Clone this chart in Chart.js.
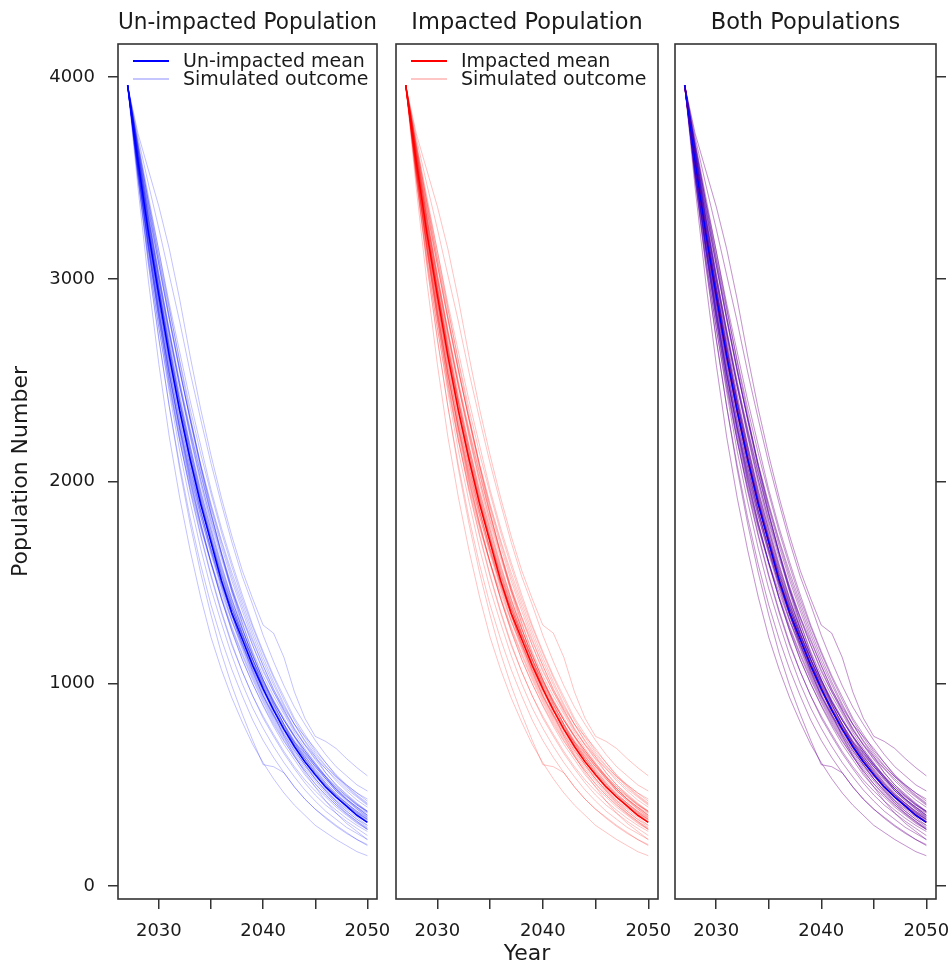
<!DOCTYPE html>
<html>
<head>
<meta charset="utf-8">
<script src="https://cdn.jsdelivr.net/npm/chart.js@4.4.1/dist/chart.umd.min.js"></script>
<style>
  html, body { margin: 0; padding: 0; background: #ffffff; }
  #wrap { position: relative; width: 951px; height: 967px; overflow: hidden; }
  canvas { position: absolute; left: 0; top: 0; }
</style>
</head>
<body>
<div id="wrap">
  <canvas id="c1" width="951" height="967"></canvas>
  <canvas id="c2" width="951" height="967"></canvas>
  <canvas id="c3" width="951" height="967"></canvas>
</div>
<script>
// Projection years and the two mean trajectories
const years = [2027,2028,2029,2030,2031,2032,2033,2034,2035,2036,2037,2038,2039,2040,2041,2042,2043,2044,2045,2046,2047,2048,2049,2050];
const unimpactedMean = [3960,3580,3230,2920,2620,2350,2110,1890,1700,1510,1350,1220,1090,975,870,775,690,615,550,490,440,395,350,315];
const impactedMean   = [3960,3580,3230,2920,2620,2350,2110,1890,1700,1510,1350,1220,1090,975,870,775,690,615,550,490,440,395,350,315];

// Simulated outcomes (the same runs appear for both populations)
const run01 = [3960,3720,3540,3360,3150,2900,2620,2360,2130,1920,1730,1560,1420,1290,1250,1130,960,830,740,715,680,630,585,545];
const run02 = [3960,3700,3470,3250,3020,2790,2540,2310,2090,1890,1700,1530,1390,1240,1110,990,885,800,720,650,590,545,500,470];
const run03 = [3960,3660,3390,3140,2880,2640,2400,2180,1960,1770,1600,1440,1290,1160,1040,935,830,750,670,610,545,495,450,410];
const run04 = [3960,3640,3340,3070,2800,2540,2310,2080,1880,1700,1530,1380,1240,1110,995,890,800,715,640,580,520,470,425,390];
const run05 = [3960,3620,3300,3000,2730,2470,2230,2010,1810,1640,1470,1320,1190,1070,960,860,770,700,640,560,500,455,410,370];
const run06 = [3960,3600,3270,2970,2680,2410,2170,1950,1760,1570,1410,1270,1140,1020,915,820,740,660,590,530,480,430,390,350];
const run07 = [3960,3590,3240,2930,2630,2360,2120,1900,1710,1540,1380,1230,1100,990,880,790,705,630,560,500,450,400,360,325];
const run08 = [3960,3570,3210,2890,2590,2320,2070,1850,1660,1480,1320,1180,1050,940,840,750,670,600,530,475,420,380,340,300];
const run09 = [3960,3550,3180,2850,2540,2270,2020,1800,1600,1420,1260,1120,1000,890,790,700,625,550,490,440,390,350,310,280];
const run10 = [3960,3530,3140,2800,2490,2210,1960,1740,1540,1360,1200,1060,940,830,740,655,580,510,450,400,360,320,285,250];
const run11 = [3960,3510,3110,2760,2440,2150,1900,1670,1470,1300,1140,1000,880,780,690,610,540,475,420,370,330,290,260,230];
const run12 = [3960,3490,3070,2700,2370,2080,1820,1590,1390,1220,1070,940,820,720,635,560,490,430,380,340,300,265,230,200];
const run13 = [3960,3450,2990,2580,2220,1920,1660,1430,1230,1070,930,810,700,610,530,460,400,350,300,265,230,200,170,150];
const run14 = [3960,3500,3100,2760,2460,2200,1970,1770,1600,1450,1310,1190,1070,960,870,780,700,640,580,520,470,430,390,360];
const run15 = [3960,3680,3410,3140,2860,2590,2330,2080,1850,1640,1450,1280,1120,980,850,740,645,560,490,420,360,310,270,230];
const run16 = [3960,3610,3290,3000,2720,2470,2250,2040,1840,1650,1470,1300,1150,1020,900,800,720,650,590,530,480,440,400,370];
const run17 = [3960,3500,3080,2710,2370,2060,1790,1550,1340,1150,990,850,720,600,590,560,490,430,380,335,295,260,230,205];
const run18 = [3960,3560,3200,2880,2600,2340,2100,1890,1700,1520,1370,1240,1120,1010,910,820,740,670,600,540,480,430,390,350];
const run19 = [3960,3580,3220,2890,2570,2290,2040,1830,1640,1470,1310,1170,1040,930,830,740,660,590,530,470,420,370,330,290];
const run20 = [3960,3650,3360,3080,2810,2550,2310,2090,1890,1710,1550,1400,1260,1130,1010,900,800,720,650,590,540,500,460,430];
const run21 = [3960,3540,3160,2820,2520,2260,2030,1830,1650,1490,1340,1200,1070,950,850,760,680,600,530,470,410,360,320,280];
const run22 = [3960,3600,3260,2950,2660,2390,2140,1910,1700,1510,1340,1190,1060,940,840,750,670,600,540,490,440,400,360,330];
const run23 = [3960,3630,3310,3010,2740,2490,2260,2040,1830,1640,1460,1300,1160,1040,940,850,760,680,610,540,480,430,380,340];
const run24 = [3960,3560,3190,2860,2560,2300,2070,1860,1670,1500,1340,1200,1080,970,880,790,710,630,560,500,450,410,370,340];
const run25 = [3960,3620,3310,3020,2750,2490,2240,2010,1800,1620,1460,1330,1210,1090,970,880,800,740,680,610,550,500,460,420];
const run26 = [3960,3590,3250,2940,2650,2390,2150,1920,1720,1540,1390,1250,1110,980,870,780,710,660,600,530,470,420,380,345];
const run27 = [3960,3540,3170,2840,2530,2250,2000,1790,1600,1430,1280,1150,1030,920,820,730,650,580,520,460,410,370,330,300];
const run28 = [3960,3670,3380,3100,2820,2560,2300,2060,1840,1650,1480,1330,1190,1060,960,870,780,700,630,580,530,480,440,400];
const run29 = [3960,3600,3250,2950,2640,2380,2120,1910,1720,1530,1370,1240,1100,990,890,800,690,630,565,505,450,405,365,330];
const run30 = [3960,3550,3180,2840,2540,2260,2010,1790,1600,1420,1260,1120,1000,895,800,715,640,570,505,450,400,360,320,285];
const run31 = [3960,3610,3280,2960,2670,2400,2170,1940,1740,1560,1400,1250,1120,1000,900,800,710,645,575,510,460,410,370,335];
const run32 = [3960,3540,3160,2830,2530,2270,2050,1850,1670,1510,1370,1240,1120,1010,910,820,740,670,605,545,490,445,400,365];
const run33 = [3960,3630,3300,2990,2700,2430,2180,1960,1760,1580,1420,1270,1140,1020,910,820,735,655,590,540,470,425,385,350];
const run34 = [3960,3580,3220,2900,2620,2350,2090,1860,1660,1490,1340,1200,1060,940,845,770,700,625,550,480,425,385,355,320];
const run35 = [3960,3640,3350,3070,2800,2550,2310,2080,1870,1680,1510,1360,1220,1090,975,870,775,695,625,560,500,450,405,365];
const run36 = [3960,3660,3380,3110,2850,2600,2360,2140,1940,1750,1580,1420,1280,1150,1030,920,820,735,660,595,540,490,445,405];
const run37 = [3960,3540,3150,2800,2480,2200,1950,1730,1530,1350,1190,1060,940,840,750,665,590,525,470,420,375,335,300,270];
const run38 = [3960,3640,3330,3030,2740,2470,2220,1990,1780,1590,1420,1270,1140,1020,920,830,745,670,600,540,490,445,405,370];
const run39 = [3960,3530,3150,2810,2500,2230,1990,1780,1590,1420,1270,1140,1020,910,810,720,640,570,505,450,400,355,315,280];
const run40 = [3960,3600,3270,2960,2660,2390,2150,1930,1730,1550,1390,1250,1120,1000,895,800,715,640,570,510,455,410,365,330];
const simulatedRuns = [run01,run02,run03,run04,run05,run06,run07,run08,run09,run10,
                       run11,run12,run13,run14,run15,run16,run17,run18,run19,run20,
                       run21,run22,run23,run24,run25,run26,run27,run28,run29,run30,
                       run31,run32,run33,run34,run35,run36,run37,run38,run39,run40];

// Axis ticks
const yTicks = [0, 1000, 2000, 3000, 4000];
const xTicks = [2030, 2035, 2040, 2045, 2050];
const xLabelled = [2030, 2040, 2050];

const FONT = 'DejaVu Sans';
const INK = '#1a1a1a';
const FRAME = '#333333';
const BLUE = '#0000ff';
const RED = '#ff0000';
const BLUE_SIM = 'rgba(0,0,255,0.24)';
const RED_SIM = 'rgba(255,0,0,0.24)';

function points(vals) {
  return years.map((yr, i) => ({ x: yr, y: vals[i] }));
}
function meanSet(vals, color) {
  return { data: points(vals), borderColor: color, borderWidth: 1.6, pointRadius: 0, tension: 0, fill: false };
}
function runSets(color) {
  return simulatedRuns.map(r => ({ data: points(r), borderColor: color, borderWidth: 1, pointRadius: 0, tension: 0, fill: false }));
}

// Box around each panel and the in-panel key
const panelDecor = {
  id: 'panelDecor',
  afterDraw(chart, args, opts) {
    const { ctx, chartArea: a } = chart;
    ctx.save();
    ctx.strokeStyle = FRAME;
    ctx.lineWidth = 1.6;
    ctx.strokeRect(a.left, a.top, a.right - a.left, a.bottom - a.top);
    if (opts.items) {
      ctx.font = '19px "' + FONT + '"';
      ctx.textBaseline = 'middle';
      ctx.textAlign = 'left';
      opts.items.forEach((it, i) => {
        const y = a.top + 17 + i * 18;
        ctx.strokeStyle = it.color;
        ctx.lineWidth = it.width;
        ctx.beginPath();
        ctx.moveTo(a.left + 15, y);
        ctx.lineTo(a.left + 51, y);
        ctx.stroke();
        ctx.fillStyle = INK;
        ctx.fillText(it.label, a.left + 65, y + 1);
      });
    }
    ctx.restore();
  }
};

function makePanel(id, cfg) {
  const W = 951;
  const yScale = {
    min: -64, max: 4163,
    afterBuildTicks: s => { s.ticks = yTicks.map(v => ({ value: v })); },
    grid: { drawOnChartArea: false, drawTicks: true, tickLength: 10, color: FRAME, lineWidth: 1.5 },
    border: { display: false }
  };
  if (cfg.yAxis === 'left') {
    Object.assign(yScale, {
      position: 'left',
      afterFit: s => { s.width = cfg.left; },
      ticks: { font: { family: FONT, size: 18 }, color: INK, padding: 13, callback: v => String(v) },
      title: { display: true, text: 'Population Number', font: { family: FONT, size: 22 }, color: INK, padding: { top: 8, bottom: 0 } }
    });
  } else if (cfg.yAxis === 'right') {
    Object.assign(yScale, {
      position: 'right',
      afterFit: s => { s.width = W - cfg.right; },
      ticks: { display: false }
    });
  } else {
    yScale.display = false;
  }

  const padding = {
    top: 0, bottom: 0,
    left: cfg.yAxis === 'left' ? 0 : cfg.left,
    right: cfg.yAxis === 'right' ? 0 : W - cfg.right
  };

  return new Chart(document.getElementById(id), {
    type: 'line',
    data: { datasets: cfg.datasets },
    options: {
      responsive: false,
      animation: false,
      events: [],
      layout: { padding },
      scales: {
        x: {
          type: 'linear', min: 2026.08, max: 2050.92,
          afterBuildTicks: s => { s.ticks = xTicks.map(v => ({ value: v })); },
          // fixed axis height; end labels may overhang the panel edges
          afterFit: s => { s.height = 68; s.paddingLeft = 0; s.paddingRight = 0; },
          ticks: {
            autoSkip: false, maxRotation: 0, padding: 12,
            font: { family: FONT, size: 18 }, color: INK,
            callback: v => (xLabelled.includes(v) ? String(v) : '')
          },
          grid: { drawOnChartArea: false, drawTicks: true, tickLength: 10, color: FRAME, lineWidth: 1.5 },
          border: { display: false },
          title: cfg.xTitle
            ? { display: true, text: cfg.xTitle, font: { family: FONT, size: 22 }, color: INK, padding: { top: 0, bottom: 0 } }
            : { display: false }
        },
        y: yScale
      },
      plugins: {
        legend: { display: false },
        tooltip: { enabled: false },
        title: {
          display: true, text: cfg.title, fullSize: false,
          font: { family: FONT, size: 22.5, weight: 'normal' }, color: INK,
          padding: { top: 10, bottom: 7 }
        },
        panelDecor: { items: cfg.legend || null }
      }
    },
    plugins: [panelDecor]
  });
}

makePanel('c1', {
  left: 118, right: 377, yAxis: 'left',
  title: 'Un-impacted Population',
  datasets: [meanSet(unimpactedMean, BLUE), ...runSets(BLUE_SIM)],
  legend: [
    { label: 'Un-impacted mean', color: BLUE, width: 2 },
    { label: 'Simulated outcome', color: 'rgba(0,0,255,0.3)', width: 1.5 }
  ]
});

makePanel('c2', {
  left: 396, right: 658, yAxis: 'none',
  title: 'Impacted Population', xTitle: 'Year',
  datasets: [meanSet(impactedMean, RED), ...runSets(RED_SIM)],
  legend: [
    { label: 'Impacted mean', color: RED, width: 2 },
    { label: 'Simulated outcome', color: 'rgba(255,0,0,0.3)', width: 1.5 }
  ]
});

// Both populations: impacted runs underneath, un-impacted runs over them, means on top
makePanel('c3', {
  left: 675, right: 936, yAxis: 'right',
  title: 'Both Populations',
  datasets: [meanSet(unimpactedMean, BLUE), meanSet(impactedMean, RED), ...runSets(BLUE_SIM), ...runSets(RED_SIM)]
});
</script>
</body>
</html>
